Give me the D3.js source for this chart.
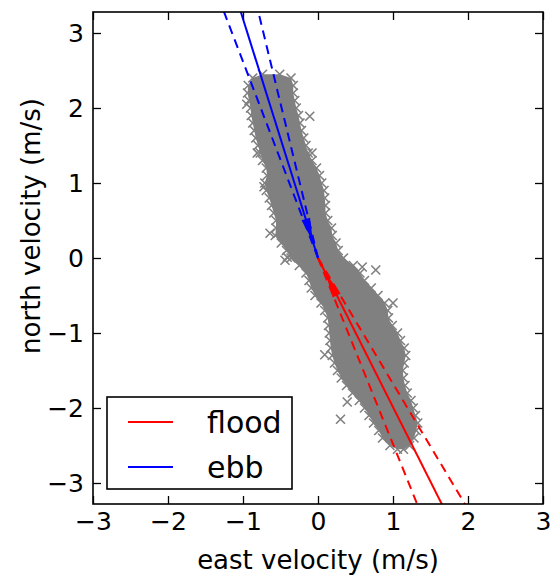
<!DOCTYPE html>
<html><head><meta charset="utf-8">
<script src="https://cdn.jsdelivr.net/npm/d3@7"></script>
<style>
body{margin:0;background:#fff}
svg{display:block}
text{font-family:"DejaVu Sans",sans-serif;fill:#000}
</style>
</head><body>
<svg id="c" width="552" height="578"></svg>
<script>
// ---------- data ----------
const xTicks = [-3, -2, -1, 0, 1, 2, 3];
const yTicks = [-3, -2, -1, 0, 1, 2, 3];
const xDomain = [-3, 3];
const yDomain = [-3.28, 3.28];
const xLabel = "east velocity (m/s)";
const yLabel = "north velocity (m/s)";
const seriesNames = ["flood", "ebb"];

// velocity cloud, read row by row: north value, westmost and eastmost sample
const cloudNorth   = [2.45, 2.4, 2.3, 2.2, 2.1, 2.0, 1.9, 1.8, 1.7, 1.6, 1.5, 1.4, 1.3, 1.2, 1.1, 1.0, 0.9, 0.8, 0.7, 0.6, 0.5, 0.4, 0.3, 0.2, 0.1, 0.0,
                      -0.1, -0.2, -0.3, -0.4, -0.5, -0.6, -0.7, -0.8, -0.9, -1.0, -1.1, -1.2, -1.3, -1.4, -1.5, -1.6, -1.7, -1.8, -1.9, -2.0, -2.1, -2.2, -2.3, -2.4, -2.5, -2.55];
const cloudEastMin = [-0.74, -0.87, -0.93, -0.94, -0.92, -0.90, -0.89, -0.87, -0.85, -0.83, -0.80, -0.77, -0.74, -0.69, -0.68, -0.71, -0.69, -0.65, -0.62, -0.59, -0.56, -0.56, -0.57, -0.49, -0.42, -0.36,
                      -0.25, -0.16, -0.12, -0.09, -0.04, 0.04, 0.09, 0.13, 0.14, 0.15, 0.16, 0.17, 0.19, 0.22, 0.26, 0.31, 0.38, 0.46, 0.55, 0.62, 0.68, 0.74, 0.81, 0.86, 0.96, 1.06];
const cloudEastMax = [-0.51, -0.36, -0.33, -0.33, -0.31, -0.29, -0.26, -0.24, -0.22, -0.19, -0.16, -0.13, -0.08, -0.02, 0.02, 0.05, 0.08, 0.09, 0.10, 0.10, 0.13, 0.18, 0.19, 0.24, 0.27, 0.34,
                      0.47, 0.56, 0.62, 0.71, 0.80, 0.89, 0.93, 0.94, 0.99, 1.06, 1.10, 1.15, 1.17, 1.15, 1.13, 1.14, 1.16, 1.19, 1.24, 1.27, 1.30, 1.33, 1.31, 1.28, 1.22, 1.14];
// isolated samples standing out of the cloud
const strayEast  = [-0.81, -0.95, -0.41, -0.64, -0.11, -0.08, 0.59, 1.00, 0.39, 0.77, 0.09, -0.72, -0.44, 0.30];
const strayNorth = [ 1.40,  2.05,  0.01,  0.33,  1.89,  1.40, -0.12, -0.60, -1.92, -0.16, -1.29, 0.95, -0.03, -2.15];

// principal axes (end points, lines start at origin): [lower, mean, upper]
const floodEndEast = [1.33, 1.66, 1.97];
const floodEndNorth = -3.3;
const ebbEndEast = [-1.26, -1.035, -0.80];
const ebbEndNorth = 3.3;
// mean direction arrows: [tail, tip]
const floodArrowEast = [0.25, 0.10];
const floodArrowNorth = [-0.50, -0.20];
const ebbArrowEast = [-0.163, -0.069];
const ebbArrowNorth = [0.52, 0.22];

// ---------- drawing ----------
const svg = d3.select("#c");
const L = 93, R = 543, T = 12, B = 504;
const x = d3.scaleLinear().domain(xDomain).range([L, R]);
const y = d3.scaleLinear().domain(yDomain).range([B, T]);
const gray = "#808080";
const red = "#ff0000", blue = "#0000ff";

svg.append("defs").append("clipPath").attr("id", "clip")
  .append("rect").attr("x", L).attr("y", T).attr("width", R - L).attr("height", B - T);
const plot = svg.append("g").attr("clip-path", "url(#clip)");

// cloud body
const rows = cloudNorth.map((n, i) => ({n, e0: cloudEastMin[i], e1: cloudEastMax[i]}));
plot.append("path").datum(rows)
  .attr("d", d3.area().y(d => y(d.n)).x0(d => x(d.e0)).x1(d => x(d.e1)))
  .attr("fill", gray);

// markers
const pts = [];
rows.forEach(r => { pts.push([r.e0, r.n]); pts.push([r.e1, r.n]); });
strayEast.forEach((e, i) => pts.push([e, strayNorth[i]]));
const s = 4.5;
plot.append("g").selectAll("path").data(pts).join("path")
  .attr("transform", d => `translate(${x(d[0])},${y(d[1])})`)
  .attr("d", `M${-s},${-s}L${s},${s}M${-s},${s}L${s},${-s}`)
  .attr("stroke", gray).attr("stroke-width", 1.6).attr("fill", "none");

// axes lines
function drawSet(endsE, endN, color) {
  endsE.forEach((e, i) => {
    plot.append("line")
      .attr("x1", x(0)).attr("y1", y(0)).attr("x2", x(e)).attr("y2", y(endN))
      .attr("stroke", color).attr("stroke-width", i === 1 ? 2 : 2)
      .attr("stroke-dasharray", i === 1 ? null : "9,6");
  });
}
drawSet(floodEndEast, floodEndNorth, red);
drawSet(ebbEndEast, ebbEndNorth, blue);

// arrows
function arrow(es, ns, color) {
  const x0 = x(es[0]), y0 = y(ns[0]), x1 = x(es[1]), y1 = y(ns[1]);
  const dx = x1 - x0, dy = y1 - y0, len = Math.hypot(dx, dy);
  const ux = dx / len, uy = dy / len, px = -uy, py = ux, w = 4.5;
  plot.append("path")
    .attr("d", `M${x1},${y1}L${x0 + px * w},${y0 + py * w}L${x0 - px * w},${y0 - py * w}Z`)
    .attr("fill", color);
}
arrow(floodArrowEast, floodArrowNorth, red);
arrow(ebbArrowEast, ebbArrowNorth, blue);

// axes
const fs = 25;
const gx = svg.append("g").attr("transform", `translate(0,${B})`)
  .call(d3.axisBottom(x).tickValues(xTicks).tickSize(-8).tickPadding(8).tickFormat(d3.format("d")));
const gx2 = svg.append("g").attr("transform", `translate(0,${T})`)
  .call(d3.axisTop(x).tickValues(xTicks).tickSize(-8).tickFormat(""));
const gy = svg.append("g").attr("transform", `translate(${L},0)`)
  .call(d3.axisLeft(y).tickValues(yTicks).tickSize(-8).tickPadding(9).tickFormat(d3.format("d")));
const gy2 = svg.append("g").attr("transform", `translate(${R},0)`)
  .call(d3.axisRight(y).tickValues(yTicks).tickSize(-8).tickFormat(""));
[gx, gx2, gy, gy2].forEach(g => {
  g.select(".domain").remove();
  g.selectAll("line").attr("stroke", "#000").attr("stroke-width", 1.3);
  g.attr("font-family", "DejaVu Sans").attr("font-size", fs);
  g.selectAll("text").attr("fill", "#000");
});
svg.append("rect").attr("x", L).attr("y", T).attr("width", R - L).attr("height", B - T)
  .attr("fill", "none").attr("stroke", "#000").attr("stroke-width", 1.6);

// labels
svg.append("text").attr("x", (L + R) / 2).attr("y", 569).attr("text-anchor", "middle")
  .attr("font-size", 26).text(xLabel);
svg.append("text").attr("transform", "translate(40,226) rotate(-90)").attr("text-anchor", "middle")
  .attr("font-size", 26).text(yLabel);

// legend
const lg = svg.append("g");
lg.append("rect").attr("x", 107).attr("y", 397).attr("width", 185).attr("height", 92)
  .attr("fill", "#fff").attr("stroke", "#000").attr("stroke-width", 1.6);
const legColors = [red, blue];
seriesNames.forEach((nm, i) => {
  const yy = 422 + i * 45;
  lg.append("line").attr("x1", 128).attr("x2", 173).attr("y1", yy).attr("y2", yy)
    .attr("stroke", legColors[i]).attr("stroke-width", 2);
  lg.append("text").attr("x", 207).attr("y", yy + 11).attr("font-size", 30).text(nm);
});
</script>
</body></html>
